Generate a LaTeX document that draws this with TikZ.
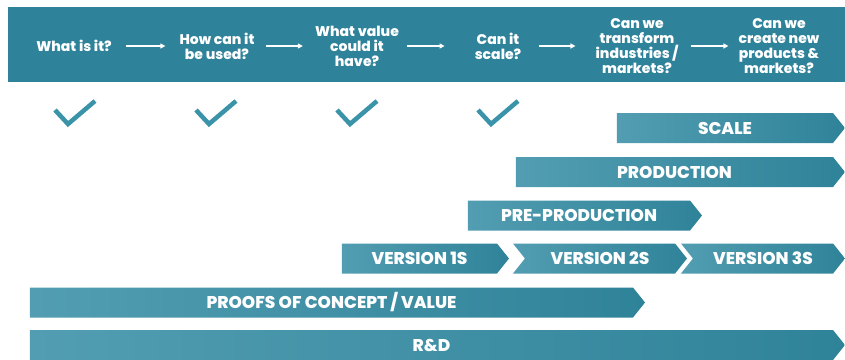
\documentclass[tikz,border=0pt]{standalone}
\usepackage{fontspec}
\setmainfont{Poppins}[BoldFont={* ExtraBold}]
\usetikzlibrary{shapes.symbols,arrows.meta}

\definecolor{bannerteal}{HTML}{2E8299}
\definecolor{barlight}{HTML}{529DB1}
\definecolor{bardark}{HTML}{2F8399}
\definecolor{checkteal}{HTML}{3A93A8}

\begin{document}
\begin{tikzpicture}[x=1pt,y=-1pt]
  \tikzstyle{question}=[text=white,font=\fontsize{14}{15}\selectfont\bfseries,align=center,inner sep=0pt]
  \tikzstyle{flowarrow}=[white,line width=1.4pt,-{Triangle[length=5pt,width=5pt]}]
  \tikzstyle{stage}=[signal,signal to=east,signal pointer angle=103,minimum height=30pt,inner sep=0pt,
                     left color=barlight,right color=bardark,text=white,font=\fontsize{17}{18}\selectfont\bfseries]
  \tikzstyle{stage after}=[stage,signal from=west]
  \tikzstyle{tick}=[checkteal,line width=4.5pt,line join=miter]

  \useasboundingbox (0,0) rectangle (845,359);
  \fill[bannerteal] (8,7) rectangle (845,82);

  % questions along the top
  \node[question] (q1) at (74,46) {What is it?};
  \node[question] (q2) at (217,46) {How can it\\be used?};
  \node[question] (q3) at (357,46) {What value\\could it\\have?};
  \node[question] (q4) at (498,46) {Can it\\scale?};
  \node[question] (q5) at (637,46) {Can we\\transform\\industries /\\markets?};
  \node[question] (q6) at (779,46) {Can we\\create new\\products \&\\markets?};
  \draw[flowarrow,shorten <=14pt,shorten >=14pt] (q1) -- (q2);
  \draw[flowarrow,shorten <=11pt,shorten >=12pt] (q2) -- (q3);
  \draw[flowarrow,shorten <=8pt,shorten >=30pt] (q3) -- (q4);
  \draw[flowarrow,shorten <=18pt,shorten >=20pt] (q4) -- (q5);
  \draw[flowarrow,shorten <=12pt,shorten >=10pt] (q5) -- (q6);

  % done so far
  \foreach \cx in {75,216,357,498}
    \draw[tick] (\cx-20,110) -- (\cx-7,124) -- (\cx+20,101);

  % stages
  \node[stage,minimum width=228pt] (scale) at (725,128) {SCALE};
  \node[stage,minimum width=329pt] (prod) at (674.5,172) {PRODUCTION};
  \node[stage,minimum width=234pt] (preprod) at (579,215.5) {PRE-PRODUCTION};
  \node[stage,minimum width=167pt] (v1) at (419.5,258.5) {VERSION 1S};
  \node[stage after,minimum width=174pt] (v2) at (600,258.5) {VERSION 2S};
  \node[stage after,minimum width=164pt] (v3) at (763,258.5) {VERSION 3S};
  \node[stage,minimum width=615pt] (poc) at (331.5,302.5) {PROOFS OF CONCEPT / VALUE};
  \node[stage,minimum width=815pt] (rd) at (431.5,345) {R\&D};
\end{tikzpicture}
\end{document}
